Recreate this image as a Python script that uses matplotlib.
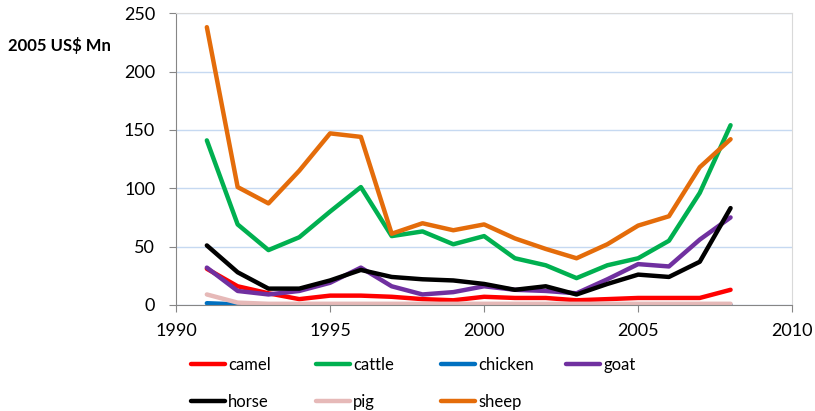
import matplotlib
matplotlib.use('Agg')
import matplotlib.pyplot as plt

plt.rcParams['font.family'] = ['Lato', 'DejaVu Sans']

years = list(range(1991, 2009))
camel = [31, 16, 10, 5, 8, 8, 7, 5, 4, 7, 6, 6, 4, 5, 6, 6, 6, 13]
cattle = [141, 69, 47, 58, 80, 101, 59, 63, 52, 59, 40, 34, 23, 34, 40, 55, 96, 154]
chicken = [1.5, 0.5, 0, 0, 0, 0, 0, 0, 0, 0, 0, 0, 0, 0, 0, 0, 0, 0]
goat = [32, 12, 9, 12, 19, 32, 16, 9, 11, 16, 13, 12, 10, 22, 35, 33, 56, 75]
horse = [51, 28, 14, 14, 21, 30, 24, 22, 21, 18, 13, 16, 9, 18, 26, 24, 37, 83]
pig = [9, 2, 1, 1, 1, 1, 1, 1, 1, 1, 1, 1, 1, 1, 1, 1, 1, 1]
sheep = [238, 101, 87, 115, 147, 144, 61, 70, 64, 69, 57, 48, 40, 52, 68, 76, 118, 142]

series = [('camel', camel, '#ff0000'), ('cattle', cattle, '#00b050'),
          ('chicken', chicken, '#0070c0'), ('goat', goat, '#7030a0'),
          ('horse', horse, '#000000'), ('pig', pig, '#e6b9b8'),
          ('sheep', sheep, '#e46c0a')]

fig = plt.figure(figsize=(8.15, 4.11), dpi=100)
ax = fig.add_axes([0.216, 0.258, 0.756, 0.71])

lines = []
for name, vals, col in series:
    ln, = ax.plot(years, vals, color=col, lw=3.2, label=name, solid_capstyle='round')
    lines.append(ln)

ax.set_xlim(1990, 2010)
ax.set_ylim(0, 250)
ax.set_xticks(range(1990, 2011, 5))
ax.set_yticks(range(0, 251, 50))
ax.grid(axis='y', color='#c6d9f1', lw=1)
ax.set_axisbelow(True)
for s in ['top', 'right']:
    ax.spines[s].set_color('#d9d9d9')
for s in ['left', 'bottom']:
    ax.spines[s].set_color('#868686')
ax.tick_params(axis='both', direction='out', length=5, color='#868686',
               labelsize=13)
ax.tick_params(axis='y', pad=10)
ax.tick_params(axis='x', pad=8)

fig.text(0.01, 0.875, '2005 US$ Mn', fontsize=12, fontweight='bold')

# excel style legend: fixed column width, filled row by row
for i in range(4):
    idx = [j for j in (i, i + 4) if j < len(lines)]
    fig.legend([lines[j] for j in idx], [series[j][0] for j in idx],
               loc='upper left', bbox_to_anchor=((183 + i * 125) / 815, 0.152),
               frameon=False, fontsize=12, handlelength=2.0,
               handletextpad=0.2, labelspacing=1.25, borderpad=0)

fig.savefig('out.png', dpi=100)
